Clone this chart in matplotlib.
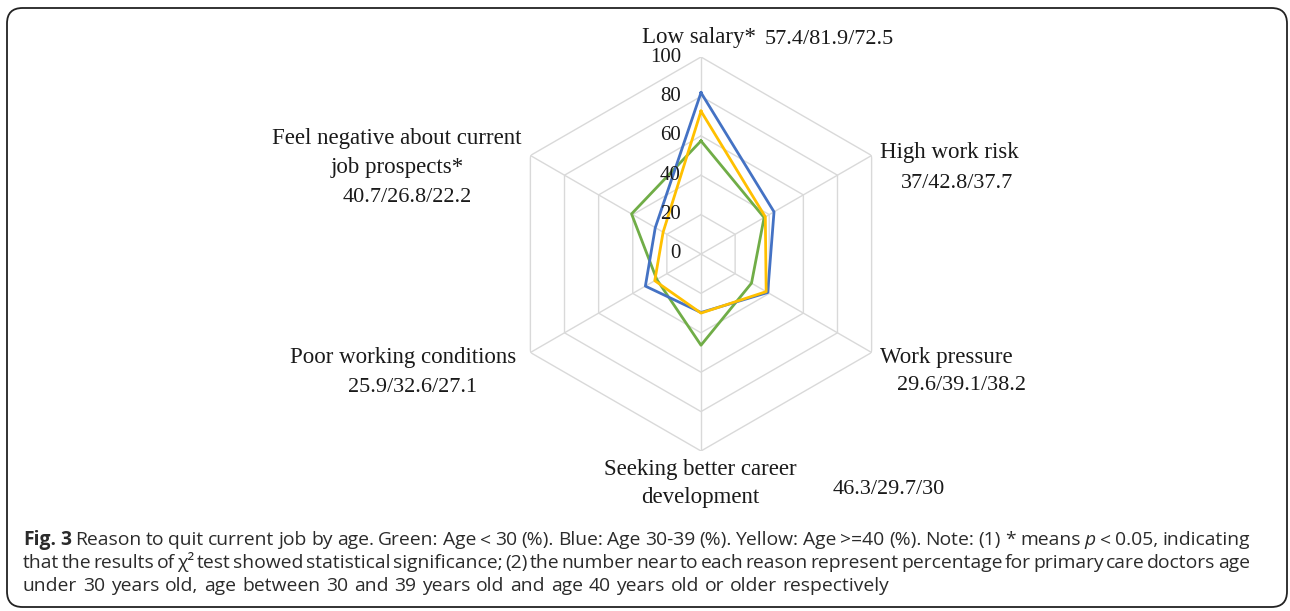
import numpy as np
import matplotlib.pyplot as plt
from matplotlib.patches import FancyBboxPatch

W, H = 1290, 611

categories = ["Low salary*", "High work risk", "Work pressure",
              "Seeking better career development", "Poor working conditions",
              "Feel negative about current job prospects*"]
age_lt30 = [57.4, 37, 29.6, 46.3, 25.9, 40.7]
age_30_39 = [81.9, 42.8, 39.1, 29.7, 32.6, 26.8]
age_ge40 = [72.5, 37.7, 38.2, 30, 27.1, 22.2]
value_labels = ["57.4/81.9/72.5", "37/42.8/37.7", "29.6/39.1/38.2",
                "46.3/29.7/30", "25.9/32.6/27.1", "40.7/26.8/22.2"]
rticks = [0, 20, 40, 60, 80, 100]

green, blue, yellow = "#70AD47", "#4472C4", "#FFC000"
grid_c = "#D9D9D9"
serif = "Liberation Serif"
sans = "Open Sans"

fig = plt.figure(figsize=(W / 100, H / 100), dpi=100)

# outer rounded frame
frame = FancyBboxPatch((7 / W, 4 / H), 1280 / W, 599 / H,
                       boxstyle="round,pad=0,rounding_size=0.012",
                       transform=fig.transFigure, fill=False,
                       ec="#222222", lw=1.3, mutation_aspect=W / H)
fig.patches.append(frame)

# radar: centre (701, 254) px, radius 197 px
cx, cy, rad = 701, 254, 197
ax = fig.add_axes([(cx - rad) / W, (H - cy - rad) / H, 2 * rad / W, 2 * rad / H],
                  projection="polar")
ax.set_theta_zero_location("N")
ax.set_theta_direction(-1)
ax.set_ylim(0, 100)
ax.axis("off")

n = len(categories)
angles = np.arange(n) * 2 * np.pi / n
closed = np.append(angles, angles[0])

for r in rticks[1:]:
    ax.plot(closed, [r] * (n + 1), color=grid_c, lw=1.0, zorder=1)
for a in angles:
    ax.plot([a, a], [0, 100], color=grid_c, lw=1.0, zorder=1)

for vals, c in [(age_lt30, green), (age_30_39, blue), (age_ge40, yellow)]:
    ax.plot(closed, vals + vals[:1], color=c, lw=2.0, zorder=3)

for r in rticks:
    ax.annotate(str(r), xy=(0, r), xytext=(-20, 0), textcoords="offset pixels",
                ha="right", va="center", fontsize=15, family=serif,
                color="#1a1a1a", annotation_clip=False)


def ftext(x, y, s, size=16.5, **kw):
    fig.text(x / W, 1 - y / H, s, fontsize=size, family=serif,
             color="#1a1a1a", va="center", **kw)


# category labels and values
ftext(699, 37, "Low salary*", ha="center")
ftext(765, 40, value_labels[0], size=16, ha="left")
ftext(949, 152, "High work risk", ha="center")
ftext(957, 183, value_labels[1], size=16, ha="center")
ftext(946, 358, "Work pressure", ha="center")
ftext(961, 385, value_labels[2], size=16, ha="center")
ftext(700, 470, "Seeking better career", ha="center")
ftext(700, 497, "development", ha="center")
ftext(889, 490, value_labels[3], size=16, ha="center")
ftext(403, 357, "Poor working conditions", ha="center")
ftext(413, 387, value_labels[4], size=16, ha="center")
ftext(397, 138, "Feel negative about current", ha="center")
ftext(397, 168, "job prospects*", ha="center")
ftext(407, 197, value_labels[5], size=16, ha="center")

# caption, justified word by word
cap_size = 13.9
reg = dict(family=sans, fontsize=cap_size, color="#2b2b2b")
bold = dict(reg, weight="bold")
ital = dict(reg, style="italic")

line1 = [("Fig.", bold), ("3", bold)] + [(w, reg) for w in
         "Reason to quit current job by age. Green: Age < 30 (%). Blue: Age 30-39 (%). "
         "Yellow: Age >=40 (%). Note: (1) * means".split()] + \
        [("p", ital), ("<", reg), ("0.05,", reg), ("indicating", reg)]
line2 = [(w, reg) for w in
         "that the results of χ² test showed statistical significance; (2) the number "
         "near to each reason represent percentage for primary care doctors age".split()]
line3 = [(w, reg) for w in
         "under 30 years old, age between 30 and 39 years old and age 40 years old or "
         "older respectively".split()]

fig.canvas.draw()
renderer = fig.canvas.get_renderer()


def place_line(words, y, x0=23, x1=1250, justify=True):
    texts = [fig.text(0, 1 - y / H, w, va="baseline", ha="left", **kw)
             for w, kw in words]
    widths = [t.get_window_extent(renderer).width for t in texts]
    if justify:
        gap = (x1 - x0 - sum(widths)) / (len(texts) - 1)
    else:
        gap = cap_size * 0.3 * 100 / 72
    x = x0
    for t, w in zip(texts, widths):
        t.set_x(x / W)
        x += w + gap


place_line(line1, 545)
place_line(line2, 568)
place_line(line3, 591, justify=False)

plt.savefig("out.png", dpi=100)
